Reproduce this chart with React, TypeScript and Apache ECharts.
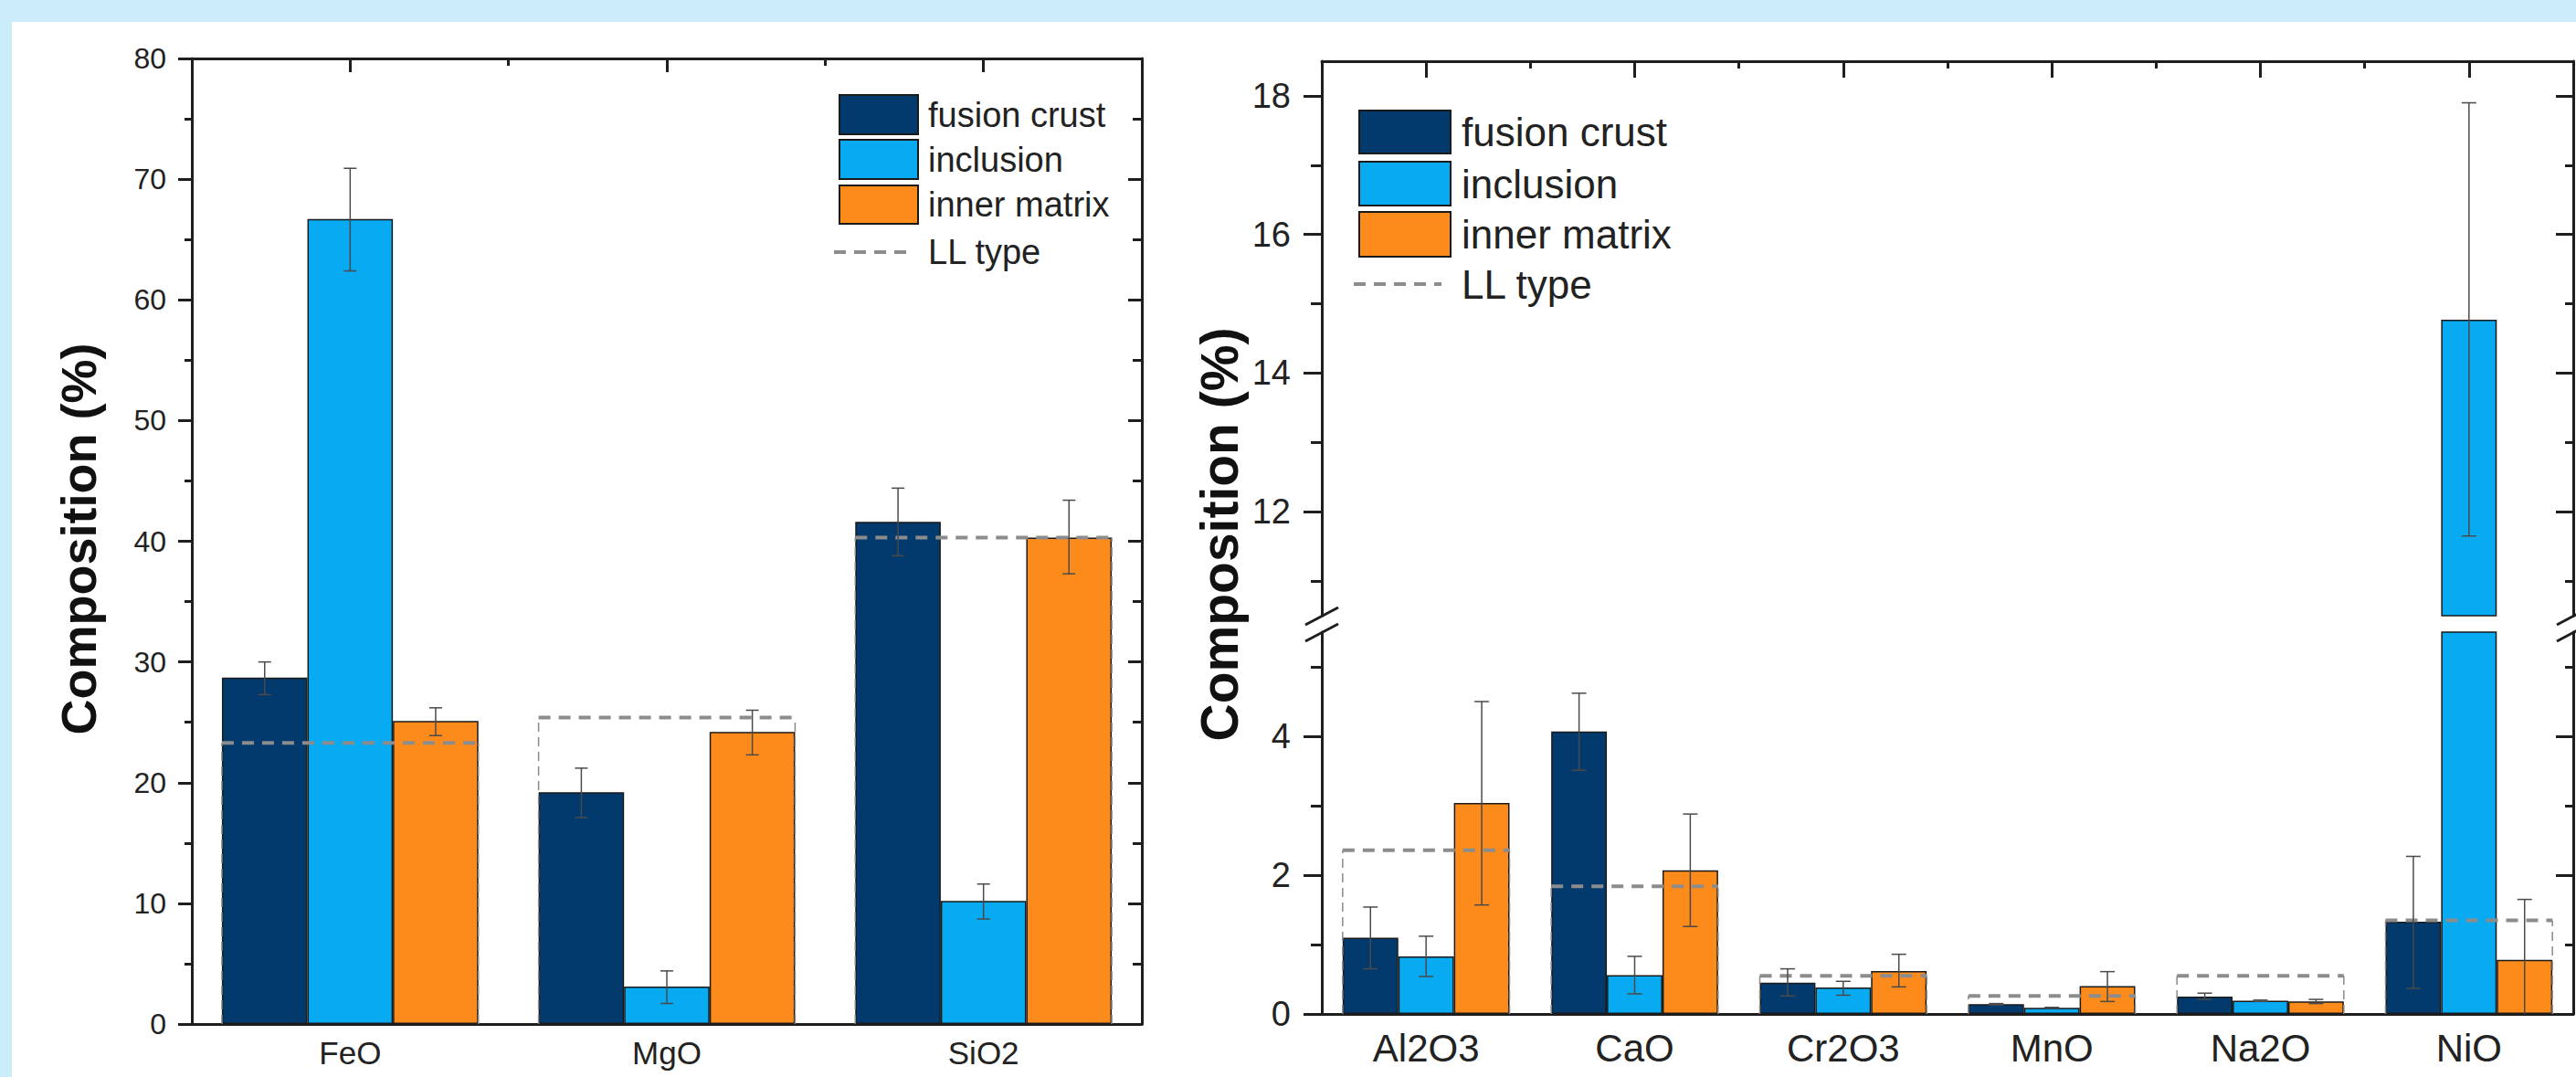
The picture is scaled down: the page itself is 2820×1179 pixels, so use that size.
import React, { useEffect, useRef } from 'react';
import * as echarts from 'echarts';

// ---------- data ----------
const seriesNames = ['fusion crust', 'inclusion', 'inner matrix'];
const seriesColors = ['#033a6e', '#08aaf2', '#fd8b1c'];

const majorCats = ['FeO', 'MgO', 'SiO2'];
const majorFusion = [28.7, 19.2, 41.6];
const majorFusionErr = [[27.3, 30.0], [17.1, 21.2], [38.8, 44.4]];
const majorInclusion = [66.7, 3.1, 10.2];
const majorInclusionErr = [[62.4, 70.9], [1.7, 4.4], [8.7, 11.6]];
const majorInner = [25.1, 24.2, 40.3];
const majorInnerErr = [[23.9, 26.2], [22.3, 26.0], [37.3, 43.4]];
const majorLL = [23.3, 25.4, 40.3];

const minorCats = ['Al2O3', 'CaO', 'Cr2O3', 'MnO', 'Na2O', 'NiO'];
const minorFusion = [1.1, 4.07, 0.45, 0.14, 0.25, 1.33];
const minorFusionErr = [[0.65, 1.54], [3.51, 4.62], [0.26, 0.65], [0.13, 0.15], [0.21, 0.3], [0.37, 2.27]];
const minorInclusion = [0.83, 0.56, 0.38, 0.09, 0.19, 14.77];
const minorInclusionErr = [[0.54, 1.12], [0.29, 0.83], [0.27, 0.47], [0.085, 0.095], [0.18, 0.2], [11.65, 17.9]];
const minorInner = [3.04, 2.07, 0.62, 0.4, 0.18, 0.78];
const minorInnerErr = [[1.57, 4.5], [1.26, 2.88], [0.39, 0.86], [0.18, 0.61], [0.15, 0.21], [-0.09, 1.65]];
const minorLL = [2.36, 1.84, 0.55, 0.26, 0.55, 1.35];

const leftRange = [0, 80];
const upperRange = [10.5, 18.5];
const lowerRange = [0, 5.5];
const upperMajorTicks = [12, 14, 16, 18];
const upperMinorTicks = [11, 13, 15, 17];
const lowerMajorTicks = [0, 2, 4];
const lowerMinorTicks = [1, 3, 5];

const FONT = 'Liberation Sans, Arial, sans-serif';
const AX = '#1e1e1e';

function errSeries(data: number[][], k: number, gap: number, xi: number, yi: number, cap: number) {
  return {
    type: 'custom',
    xAxisIndex: xi,
    yAxisIndex: yi,
    clip: true,
    z: 6,
    silent: true,
    data: data.map((d, i) => [i, d[0], d[1]]),
    encode: { x: 0, y: [1, 2] },
    renderItem: (params: any, api: any) => {
      const ci = api.value(0);
      const band = api.size([1, 0])[0];
      const bw = (band * (1 - gap)) / 3;
      const cx = api.coord([ci, 0])[0] + (k - 1) * bw;
      const lo = api.coord([ci, api.value(1)])[1];
      const hi = api.coord([ci, api.value(2)])[1];
      const st = { stroke: '#4a4a4a', lineWidth: 1.5 };
      return {
        type: 'group',
        children: [
          { type: 'line', shape: { x1: cx, y1: lo, x2: cx, y2: hi }, style: st },
          { type: 'line', shape: { x1: cx - cap, y1: hi, x2: cx + cap, y2: hi }, style: st },
          { type: 'line', shape: { x1: cx - cap, y1: lo, x2: cx + cap, y2: lo }, style: st },
        ],
      };
    },
  };
}

function llSeries(data: number[], gap: number, xi: number, yi: number) {
  return {
    type: 'custom',
    xAxisIndex: xi,
    yAxisIndex: yi,
    clip: true,
    z: 5,
    silent: true,
    data: data.map((v, i) => [i, v]),
    encode: { x: 0, y: 1 },
    renderItem: (params: any, api: any) => {
      const ci = api.value(0);
      const band = api.size([1, 0])[0];
      const half = (band * (1 - gap)) / 2;
      const c = api.coord([ci, api.value(1)]);
      const base = api.coord([ci, 0])[1];
      const vs = { stroke: '#8a8a8a', lineWidth: 1.5, lineDash: [10, 6] };
      return {
        type: 'group',
        children: [
          { type: 'line', shape: { x1: c[0] - half, y1: base, x2: c[0] - half, y2: c[1] }, style: vs },
          { type: 'line', shape: { x1: c[0] + half, y1: base, x2: c[0] + half, y2: c[1] }, style: vs },
          {
            type: 'line',
            shape: { x1: c[0] - half, y1: c[1], x2: c[0] + half, y2: c[1] },
            style: { stroke: '#8c8c8c', lineWidth: 4, lineDash: [13, 9] },
          },
        ],
      };
    },
  };
}

function barSeries(name: string, data: number[], color: string, xi: number, yi: number, gap: string) {
  return {
    type: 'bar',
    name,
    xAxisIndex: xi,
    yAxisIndex: yi,
    data,
    barGap: '0%',
    barCategoryGap: gap,
    clip: true,
    itemStyle: { color, borderColor: '#1a1a1a', borderWidth: 1.5 },
  };
}

// value axis used either as y axis or as a top "tick ruler" for the category positions
function valueAxis(grid: number, pos: string, range: number[], opt: any) {
  return {
    type: 'value',
    gridIndex: grid,
    position: pos,
    min: range[0],
    max: range[1],
    splitLine: { show: false },
    axisLine: { show: opt.line !== false, onZero: false, lineStyle: { color: AX, width: 3 } },
    axisTick: {
      show: true,
      inside: !!opt.inside,
      length: opt.len,
      lineStyle: { color: AX, width: 3 },
      ...(opt.ticks ? { customValues: opt.ticks } : {}),
    },
    ...(opt.interval ? { interval: opt.interval } : {}),
    minorTick: opt.minor
      ? { show: true, splitNumber: 2, length: opt.minor, lineStyle: { color: AX, width: 3 } }
      : { show: false },
    axisLabel: opt.labels
      ? {
          show: true,
          fontSize: opt.fontSize,
          color: '#222',
          fontFamily: FONT,
          margin: opt.margin,
          ...(opt.ticks ? { customValues: opt.ticks } : {}),
        }
      : { show: false },
  };
}

function catAxis(grid: number, pos: string, cats: string[], opt: any) {
  return {
    type: 'category',
    gridIndex: grid,
    position: pos,
    data: cats,
    axisLine: { show: true, onZero: false, lineStyle: { color: AX, width: 3 } },
    axisTick: { show: false },
    axisLabel: { show: true, interval: 0, fontSize: opt.fontSize, color: '#222', fontFamily: FONT, margin: opt.margin },
    splitLine: { show: false },
  };
}

function centers(cats: string[]) {
  return cats.map((_, i) => i);
}
function bounds(cats: string[]) {
  return cats.map((_, i) => i - 0.5).concat([cats.length - 0.5]);
}

function legendGraphic(x: number, ys: number[], hs: number[], w: number, textX: number, llY: number, fs: number) {
  const els: any[] = [];
  seriesNames.forEach((n, i) => {
    els.push({
      type: 'rect',
      shape: { x, y: ys[i], width: w, height: hs[i] },
      style: { fill: seriesColors[i], stroke: '#1a1a1a', lineWidth: 2 },
      z: 50,
    });
    els.push({
      type: 'text',
      x: textX,
      y: ys[i] + hs[i] / 2,
      style: { text: n, fontSize: fs, fontFamily: FONT, fill: '#222', verticalAlign: 'middle', align: 'left' },
      z: 50,
    });
  });
  els.push({
    type: 'line',
    shape: { x1: x - 6, y1: llY, x2: x + w - 10, y2: llY },
    style: { stroke: '#8c8c8c', lineWidth: 4, lineDash: [13, 9] },
    z: 50,
  });
  els.push({
    type: 'text',
    x: textX,
    y: llY,
    style: { text: 'LL type', fontSize: fs, fontFamily: FONT, fill: '#222', verticalAlign: 'middle', align: 'left' },
    z: 50,
  });
  return els;
}

function breakMarks(x: number) {
  const st = { stroke: AX, lineWidth: 3 };
  return [
    { type: 'line', shape: { x1: x - 18, y1: 684, x2: x + 18, y2: 665 }, style: st, z: 50 },
    { type: 'line', shape: { x1: x - 18, y1: 702, x2: x + 18, y2: 683 }, style: st, z: 50 },
  ];
}

export default function App() {
  const ref = useRef<HTMLDivElement>(null);
  useEffect(() => {
    document.body.style.margin = '0';
    const chart = echarts.init(ref.current!, undefined, { renderer: 'svg' });
    const G0 = '19%';
    const G1 = '20%';
    const leftX = [-0.5, majorCats.length - 0.5];
    const rightX = [-0.5, minorCats.length - 0.5];
    const option: any = {
      animation: false,
      backgroundColor: '#cbedfb',
      grid: [
        { left: 210, top: 64, width: 1040, height: 1057 },
        { left: 1447, top: 67, width: 1370, height: 607 },
        { left: 1447, top: 692, width: 1370, height: 418 },
      ],
      xAxis: [
        catAxis(0, 'bottom', majorCats, { fontSize: 35, margin: 14 }),
        valueAxis(0, 'top', leftX, { len: 15, ticks: centers(majorCats), inside: true }),
        valueAxis(0, 'top', leftX, { len: 8, ticks: bounds(majorCats), inside: true, line: false }),
        catAxis(1, 'bottom', minorCats, { fontSize: 42, margin: 16 }),
        valueAxis(1, 'top', rightX, { len: 18, ticks: centers(minorCats), inside: true }),
        valueAxis(1, 'top', rightX, { len: 8, ticks: bounds(minorCats), inside: true, line: false }),
        catAxis(2, 'bottom', minorCats, { fontSize: 42, margin: 16 }),
      ],
      yAxis: [
        valueAxis(0, 'left', leftRange, { len: 15, minor: 8, interval: 10, labels: true, fontSize: 32, margin: 28 }),
        valueAxis(0, 'right', leftRange, { len: 15, minor: 10, interval: 10, inside: true }),
        valueAxis(1, 'left', upperRange, { len: 20, ticks: upperMajorTicks, labels: true, fontSize: 38, margin: 34 }),
        valueAxis(1, 'left', upperRange, { len: 12, ticks: upperMinorTicks, line: false }),
        valueAxis(1, 'right', upperRange, { len: 19, ticks: upperMajorTicks, inside: true }),
        valueAxis(1, 'right', upperRange, { len: 9, ticks: upperMinorTicks, inside: true, line: false }),
        valueAxis(2, 'left', lowerRange, { len: 20, ticks: lowerMajorTicks, labels: true, fontSize: 38, margin: 34 }),
        valueAxis(2, 'left', lowerRange, { len: 12, ticks: lowerMinorTicks, line: false }),
        valueAxis(2, 'right', lowerRange, { len: 19, ticks: lowerMajorTicks, inside: true }),
        valueAxis(2, 'right', lowerRange, { len: 9, ticks: lowerMinorTicks, inside: true, line: false }),
      ],
      series: [
        barSeries(seriesNames[0], majorFusion, seriesColors[0], 0, 0, G0),
        barSeries(seriesNames[1], majorInclusion, seriesColors[1], 0, 0, G0),
        barSeries(seriesNames[2], majorInner, seriesColors[2], 0, 0, G0),
        llSeries(majorLL, 0.19, 0, 0),
        errSeries(majorFusionErr, 0, 0.19, 0, 0, 7),
        errSeries(majorInclusionErr, 1, 0.19, 0, 0, 7),
        errSeries(majorInnerErr, 2, 0.19, 0, 0, 7),

        barSeries(seriesNames[0], minorFusion, seriesColors[0], 3, 2, G1),
        barSeries(seriesNames[1], minorInclusion, seriesColors[1], 3, 2, G1),
        barSeries(seriesNames[2], minorInner, seriesColors[2], 3, 2, G1),
        errSeries(minorFusionErr, 0, 0.2, 3, 2, 8),
        errSeries(minorInclusionErr, 1, 0.2, 3, 2, 8),
        errSeries(minorInnerErr, 2, 0.2, 3, 2, 8),

        barSeries(seriesNames[0], minorFusion, seriesColors[0], 6, 6, G1),
        barSeries(seriesNames[1], minorInclusion, seriesColors[1], 6, 6, G1),
        barSeries(seriesNames[2], minorInner, seriesColors[2], 6, 6, G1),
        llSeries(minorLL, 0.2, 6, 6),
        errSeries(minorFusionErr, 0, 0.2, 6, 6, 8),
        errSeries(minorInclusionErr, 1, 0.2, 6, 6, 8),
        errSeries(minorInnerErr, 2, 0.2, 6, 6, 8),
      ],
      graphic: [
        { type: 'rect', shape: { x: 13, y: 24, width: 2807, height: 1155 }, style: { fill: '#ffffff' }, z: -100, silent: true },
        ...legendGraphic(919, [104, 153, 203], [43, 43, 42], 86, 1016, 276, 38),
        ...legendGraphic(1488, [121, 177, 232], [47, 48, 49], 100, 1600, 311, 44),
        ...breakMarks(1447),
        ...breakMarks(2817),
        {
          type: 'text',
          x: 86,
          y: 590,
          rotation: Math.PI / 2,
          style: { text: 'Composition (%)', fontSize: 54, fontWeight: 'bold', fontFamily: FONT, fill: '#111', align: 'center', verticalAlign: 'middle' },
          z: 50,
        },
        {
          type: 'text',
          x: 1335,
          y: 585,
          rotation: Math.PI / 2,
          style: { text: 'Composition (%)', fontSize: 57, fontWeight: 'bold', fontFamily: FONT, fill: '#111', align: 'center', verticalAlign: 'middle' },
          z: 50,
        },
      ],
    };
    // hide the helper bottom category axis of the upper broken-axis panel
    option.xAxis[3].show = false;
    chart.setOption(option);
    return () => chart.dispose();
  }, []);
  return <div ref={ref} style={{ width: 2820, height: 1179 }} />;
}
